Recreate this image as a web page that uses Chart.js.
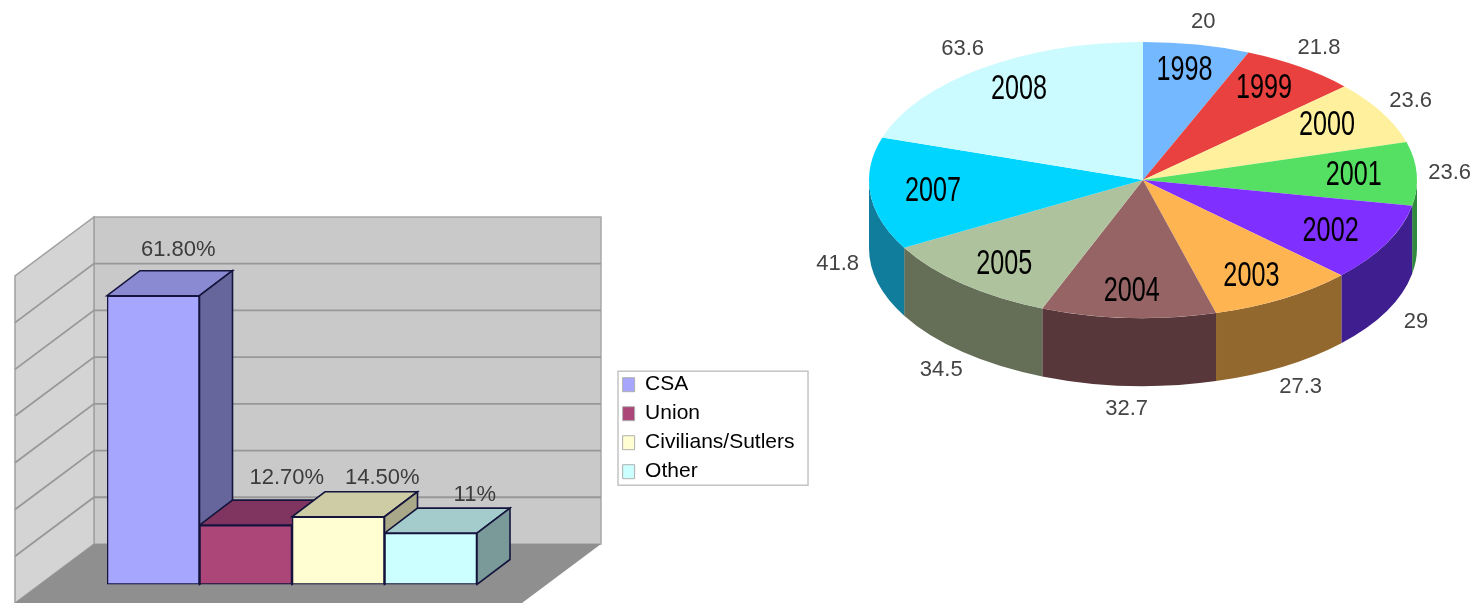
<!DOCTYPE html>
<html>
<head>
<meta charset="utf-8">
<title>Bar and pie</title>
<script src="https://cdn.jsdelivr.net/npm/chart.js@4/dist/chart.umd.min.js"></script>
<style>
  html, body { margin: 0; background: #fff; overflow: hidden; }
  canvas { position: absolute; top: 0; filter: blur(0.5px); }
  #bars { left: 0; }
  #pie { left: 800px; }
</style>
</head>
<body>
<canvas id="pie" width="676" height="603"></canvas>
<canvas id="bars" width="815" height="603"></canvas>
<script>
// left chart
const groups = ['CSA', 'Union', 'Civilians/Sutlers', 'Other'];
const shares = [61.8, 12.7, 14.5, 11];
const shareLabels = ['61.80%', '12.70%', '14.50%', '11%'];
const groupColors = ['#a6a6ff', '#ac4578', '#fffdd2', '#ccffff'];
const groupTops = ['#8a8ad2', '#803560', '#cdcca4', '#a4cccc'];
const groupSides = ['#66669c', '#66284a', '#a9a888', '#7a9999'];
const shareTicks = [0, 10, 20, 30, 40, 50, 60, 70];

// right chart
const years = ['1998', '1999', '2000', '2001', '2002', '2003', '2004', '2005', '2007', '2008'];
const yearValues = [20, 21.8, 23.6, 23.6, 29, 27.3, 32.7, 34.5, 41.8, 63.6];
const yearColors = ['#74b8ff', '#e8413f', '#fff09e', '#55e064', '#7f2fff', '#ffb452', '#966464', '#adc29d', '#00d5ff', '#ccfbff'];
const yearSides = ['#4a7ba8', '#98292a', '#a89e68', '#2f8a3c', '#3f1f8f', '#93682e', '#57373a', '#656f58', '#0f7d9b', '#86a6a8'];

const textFont = '"Liberation Sans", Arial, sans-serif';

function poly(ctx, pts, fill, stroke, lw) {
  ctx.beginPath();
  pts.forEach((p, i) => i ? ctx.lineTo(p[0], p[1]) : ctx.moveTo(p[0], p[1]));
  ctx.closePath();
  ctx.fillStyle = fill;
  ctx.fill();
  if (stroke) {
    ctx.strokeStyle = stroke;
    ctx.lineWidth = lw || 1;
    ctx.stroke();
  }
}

// room behind the bars, plus top and side faces of each bar
const room3d = {
  id: 'room3d',
  beforeDatasetsDraw(chart, args, o) {
    const ctx = chart.ctx;
    const y = chart.scales.y;
    const base = y.getPixelForValue(0);
    const top = y.getPixelForValue(70);
    const l = chart.chartArea.left - o.backInset;
    const r = o.backRight;
    const t = top - o.backLift;
    const b = base - o.backLift;
    const wx = o.wallDx, wy = o.wallDy;

    ctx.save();
    poly(ctx, [[l, t], [r, t], [r, b], [l, b]], '#c9c9c9', '#a8a8a8', 1.5);
    poly(ctx, [[l, t], [l, b], [l - wx, b + wy], [l - wx, t + wy]], '#d4d4d4', '#a0a0a0', 1.5);
    poly(ctx, [[l, b], [r, b], [r - wx, b + wy], [l - wx, b + wy]], '#8f8f8f');

    shareTicks.slice(1, -1).forEach(v => {
      const gy = y.getPixelForValue(v) - o.backLift;
      ctx.strokeStyle = '#989898';
      ctx.lineWidth = 1.8;
      ctx.beginPath();
      ctx.moveTo(l - wx, gy + wy);
      ctx.lineTo(l, gy);
      ctx.lineTo(r, gy);
      ctx.stroke();
    });

    chart.getDatasetMeta(0).data.forEach((bar, i) => {
      const x0 = bar.x - bar.width / 2, x1 = bar.x + bar.width / 2;
      const dx = o.barDx, dy = o.barDy;
      poly(ctx, [[x0, bar.y], [x1, bar.y], [x1 + dx, bar.y - dy], [x0 + dx, bar.y - dy]], groupTops[i], '#14143c', 1.6);
      poly(ctx, [[x1, bar.y], [x1 + dx, bar.y - dy], [x1 + dx, bar.base - dy], [x1, bar.base]], groupSides[i], '#14143c', 1.6);
    });
    ctx.restore();
  },
  afterDatasetsDraw(chart, args, o) {
    const ctx = chart.ctx;
    ctx.save();
    ctx.font = '22px ' + textFont;
    ctx.fillStyle = '#3c3c3c';
    ctx.textAlign = 'center';
    ctx.textBaseline = 'middle';
    chart.getDatasetMeta(0).data.forEach((bar, i) => {
      const off = o.labelOffsets[i];
      ctx.fillText(shareLabels[i], bar.x + off[0], bar.y + off[1]);
    });
    ctx.restore();
  },
  afterDraw(chart) {
    // box round the legend
    const hb = chart.legend.legendHitBoxes;
    const ctx = chart.ctx;
    ctx.save();
    ctx.strokeStyle = '#c4c4c4';
    ctx.lineWidth = 1.5;
    ctx.strokeRect(618, hb[0].top - 3, 190, hb[3].top + hb[3].height - hb[0].top + 6);
    ctx.restore();
  }
};

new Chart(document.getElementById('bars').getContext('2d'), {
  type: 'bar',
  data: {
    labels: groups,
    datasets: [{
      data: shares,
      backgroundColor: groupColors,
      borderColor: '#14143c',
      borderWidth: 1.6,
      borderSkipped: false,
      barPercentage: 1,
      categoryPercentage: 1
    }]
  },
  plugins: [room3d],
  options: {
    responsive: false,
    animation: false,
    devicePixelRatio: 1,
    layout: { padding: { top: 257.4, left: 107, bottom: 4, right: 10.5 } },
    scales: {
      x: {
        grid: { display: false },
        border: { display: false },
        ticks: { display: false },
        afterFit: s => { s.height = 14.5; }
      },
      y: { display: false, min: 0, max: 70, ticks: { stepSize: 10 } },
      spacer: {
        position: 'right',
        grid: { display: false },
        border: { display: false },
        ticks: { display: false },
        afterFit: s => { s.width = s.chart.width - 10.5 - s.chart.legend.width - 477; }
      }
    },
    plugins: {
      tooltip: { enabled: false },
      legend: {
        position: 'right',
        maxWidth: 210,
        labels: {
          boxWidth: 12,
          boxHeight: 14,
          padding: 8,
          color: '#3a3a3a',
          font: { family: textFont, size: 21 },
          generateLabels: () => groups.map((g, i) => ({
            text: g,
            fillStyle: groupColors[i],
            strokeStyle: '#b0b0b0',
            lineWidth: 1,
            index: i
          }))
        }
      },
      room3d: {
        backInset: 13, backRight: 601, backLift: 40.5,
        wallDx: 79, wallDy: 59,
        barDx: 33, barDy: 25,
        labelOffsets: [[25, -46], [41, -47], [44, -39], [44, -38]]
      }
    }
  }
});

// flattens the pie to an ellipse and gives it a rim
const pie3d = {
  id: 'pie3d',
  beforeDatasetsDraw(chart, args, o) {
    const ctx = chart.ctx;
    const arcs = chart.getDatasetMeta(0).data;
    const rx = arcs[0].outerRadius, ry = rx * o.squash;
    ctx.save();
    arcs.forEach((arc, i) => {
      const a = Math.max(arc.startAngle, 0), b = Math.min(arc.endAngle, Math.PI);
      if (b <= a) return;
      ctx.beginPath();
      ctx.ellipse(o.cx, o.cy, rx, ry, 0, a, b);
      ctx.ellipse(o.cx, o.cy + o.depth, rx, ry, 0, b, a, true);
      ctx.closePath();
      ctx.fillStyle = yearSides[i];
      ctx.fill();
    });
    ctx.restore();
    ctx.save();
    ctx.translate(o.cx, o.cy);
    ctx.scale(1, o.squash);
    ctx.translate(-arcs[0].x, -arcs[0].y);
  },
  afterDatasetsDraw(chart, args, o) {
    const ctx = chart.ctx;
    ctx.restore();
    const arcs = chart.getDatasetMeta(0).data;
    const rx = arcs[0].outerRadius, ry = rx * o.squash;
    ctx.save();
    ctx.textAlign = 'center';
    ctx.textBaseline = 'middle';
    arcs.forEach((arc, i) => {
      const mid = (arc.startAngle + arc.endAngle) / 2;
      const c = Math.cos(mid), s = Math.sin(mid);
      // value round the outside, pushed below the rim on the front half
      ctx.font = '22px ' + textFont;
      ctx.fillStyle = '#444';
      ctx.fillText(String(yearValues[i]), o.cx + rx * o.valueRx * c, o.cy + ry * o.valueRy * s + (s > 0 ? o.depth : 0));
      // tall narrow year on the slice
      ctx.save();
      ctx.translate(o.cx + rx * o.yearRx * c, o.cy + ry * o.yearRy * s);
      ctx.scale(0.72, 1);
      ctx.font = '35px ' + textFont;
      ctx.fillStyle = '#000';
      ctx.fillText(years[i], 0, 0);
      ctx.restore();
    });
    ctx.restore();
  }
};

new Chart(document.getElementById('pie').getContext('2d'), {
  type: 'pie',
  data: {
    labels: years,
    datasets: [{
      data: yearValues,
      backgroundColor: yearColors,
      borderWidth: 0,
      radius: 274,
      clip: false
    }]
  },
  plugins: [pie3d],
  options: {
    responsive: false,
    animation: false,
    devicePixelRatio: 1,
    plugins: {
      tooltip: { enabled: false },
      legend: { display: false },
      pie3d: { cx: 343, cy: 180, squash: 0.504, depth: 68, yearRx: 0.77, yearRy: 0.81, valueRx: 1.12, valueRy: 1.17 }
    }
  }
});
</script>
</body>
</html>
